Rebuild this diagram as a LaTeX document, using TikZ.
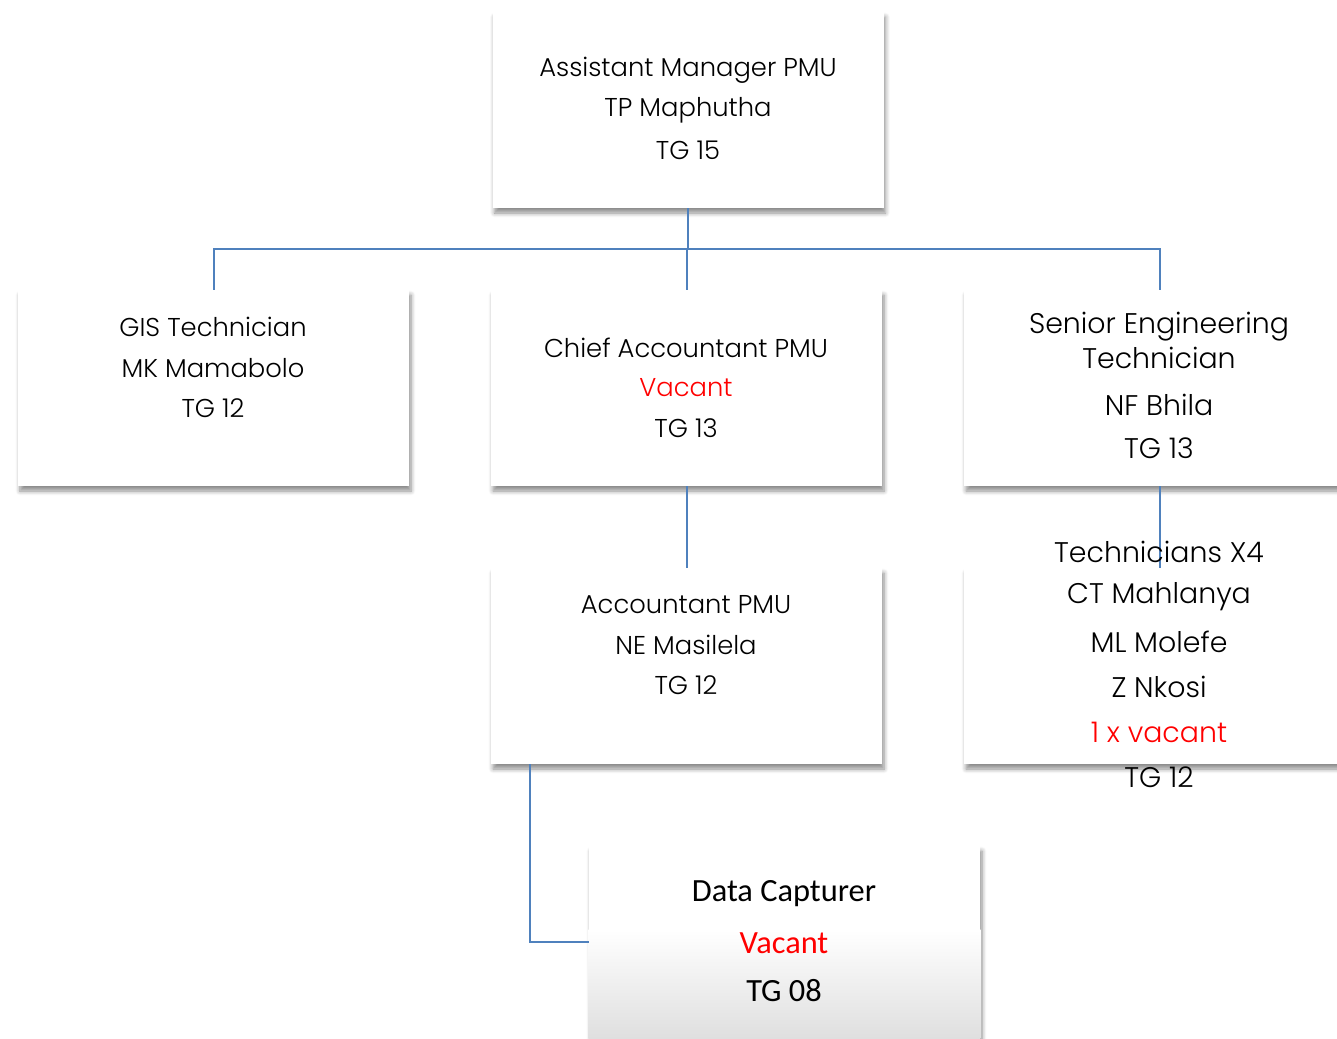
\documentclass[tikz,border=0pt]{standalone}
\usepackage{fontspec}
\setmainfont{Poppins Light}
\newfontfamily\calib{Carlito}
\usepackage{xcolor}
\usepackage{tikz}
\usetikzlibrary{shadows.blur}
\definecolor{linkblue}{RGB}{79,129,189}
\definecolor{vacred}{RGB}{255,0,0}

\begin{document}
\begin{tikzpicture}[x=0.5pt, y=-0.5pt]

  \tikzset{post/.style={fill=white, draw=none, minimum width=195.5pt, minimum height=98pt,
                        inner sep=0pt, blur shadow={shadow xshift=1pt, shadow yshift=-2.5pt,
                        shadow blur steps=6, shadow opacity=45}},
           link/.style={draw=linkblue, line width=1pt},
           txt/.style={font=\fontsize{12.9}{16}\selectfont, inner sep=0pt},
           big/.style={font=\fontsize{14.2}{17}\selectfont, inner sep=0pt},
           cal/.style={font=\calib\fontsize{16.2}{19}\selectfont, inner sep=0pt}}

  \useasboundingbox (0,0) rectangle (1337,1038);

  % the posts
  \node[post] (mgr)    at (688,110)    {};
  \node[post] (gis)    at (213.5,388)  {};
  \node[post] (chief)  at (686.5,388)  {};
  \node[post] (senior) at (1159.5,388) {};
  \node[post] (acct)   at (686.5,666)  {};
  \node[post] (techs)  at (1159.5,666) {};
  \node[post] (capt)   at (784.5,944)  {};
  % grey fade in the lower half of the last post
  \shade[top color=white, bottom color=black!13] ([yshift=-42pt]capt.north west) rectangle (capt.south east);

  % reporting lines
  \coordinate (bus) at (688,249);
  \draw[link] (mgr.south) -- (bus);
  \draw[link] (gis.north) |- (bus) -| (senior.north);
  \draw[link] (chief.north) -- (chief.north |- bus);
  \draw[link] (chief.south) -- (acct.north);
  \draw[link] (senior.south) -- (techs.north);
  \draw[link] ([xshift=19.5pt]acct.south west) |- ([yshift=1pt]capt.west);

  % texts
  \foreach \y/\t in {70/Assistant Manager PMU, 110/TP Maphutha, 150/TG 15}
    \node[txt] at (688,\y) {\t};
  \foreach \y/\t in {327/GIS Technician, 368/MK Mamabolo, 408/TG 12}
    \node[txt] at (213,\y) {\t};
  \foreach \y/\t in {348/Chief Accountant PMU, 428/TG 13}
    \node[txt] at (686,\y) {\t};
  \node[txt, text=vacred] (chiefvac) at (686,388) {Vacant};
  \foreach \y/\t in {327/Senior Engineering, 358/Technician, 405/NF Bhila, 448/TG 13}
    \node[big] at (1159,\y) {\t};
  \foreach \y/\t in {605/Accountant PMU, 645/NE Masilela, 685/TG 12}
    \node[txt] at (686,\y) {\t};
  \foreach \y/\t in {552/Technicians X4, 597/CT Mahlanya, 642/ML Molefe, 687/Z Nkosi, 777/TG 12}
    \node[big] at (1159,\y) {\t};
  \node[big, text=vacred] (techvac) at (1159,732) {1 x vacant};
  \node[cal] at (784,894) {Data Capturer};
  \node[cal, text=vacred] (captvac) at (784,943) {Vacant};
  \node[cal] at (784,991) {TG 08};

\end{tikzpicture}
\end{document}
